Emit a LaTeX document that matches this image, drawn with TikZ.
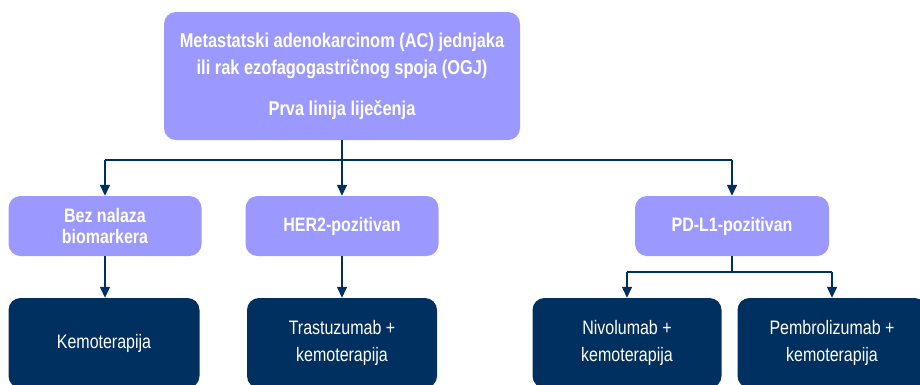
\documentclass[tikz,border=0pt]{standalone}
\usepackage{fontspec}
\setmainfont{Liberation Sans}[FakeStretch=0.82]
\usetikzlibrary{arrows.meta}

\definecolor{lila}{HTML}{9B99FF}
\definecolor{navy}{HTML}{00305F}

\tikzset{
  lightbox/.style={fill=lila, rounded corners=12pt, text=white, font=\fontsize{19.5}{21}\selectfont\bfseries, align=center, inner sep=0pt},
  darkbox/.style={fill=navy, rounded corners=12pt, text=white, font=\fontsize{19.5}{27}\selectfont, align=center, inner sep=0pt},
  link/.style={draw=navy, line width=1.4pt},
  arrow/.style={link, -{Triangle[width=10pt,length=11pt]}}
}

\begin{document}
\begin{tikzpicture}[x=1pt,y=-1pt]
        \useasboundingbox (0,0) rectangle (920,384);

        % Draw top box
        \node[lightbox, minimum width=356pt, minimum height=128pt,
              font=\fontsize{20}{27}\selectfont\bfseries] (top) at (342,76)
            {Metastatski adenokarcinom (AC) jednjaka\\ili rak ezofagogastričnog spoja (OGJ)\\[14pt]Prva linija liječenja};

        % Draw biomarker boxes
        \node[lightbox, minimum width=193pt, minimum height=60pt] (bez) at (105,226) {Bez nalaza\\biomarkera};
        \node[lightbox, minimum width=193pt, minimum height=60pt] (her) at (342,226) {HER2-pozitivan};
        \node[lightbox, minimum width=194pt, minimum height=60pt] (pdl) at (732,226) {PD-L1-pozitivan};

        % Draw therapy boxes
        \node[darkbox, minimum width=191pt, minimum height=90pt] (kemo) at (104,343) {Kemoterapija};
        \node[darkbox, minimum width=190pt, minimum height=90pt] (tras) at (342,343) {Trastuzumab +\\kemoterapija};
        \node[darkbox, minimum width=189pt, minimum height=90pt] (nivo) at (627,343) {Nivolumab +\\kemoterapija};
        \node[darkbox, minimum width=189pt, minimum height=90pt] (pembro) at (832,343) {Pembrolizumab +\\kemoterapija};

        % Connectors from top box
        \coordinate (split) at (342,160);
        \draw[link] (bez.north |- split) -- (pdl.north |- split);
        \draw[arrow] (top) -- (her);
        \draw[arrow] (bez.north |- split) -- (bez.north);
        \draw[arrow] (pdl.north |- split) -- (pdl.north);

        % Connectors to therapies
        \draw[arrow] (bez) -- (kemo.north -| bez);
        \draw[arrow] (her) -- (tras);
        \coordinate (split2) at (732,272);
        \draw[link] (pdl) -- (split2);
        \draw[link] (nivo.north |- split2) -- (pembro.north |- split2);
        \draw[arrow] (nivo.north |- split2) -- (nivo.north);
        \draw[arrow] (pembro.north |- split2) -- (pembro.north);
    \end{tikzpicture}
\end{document}
